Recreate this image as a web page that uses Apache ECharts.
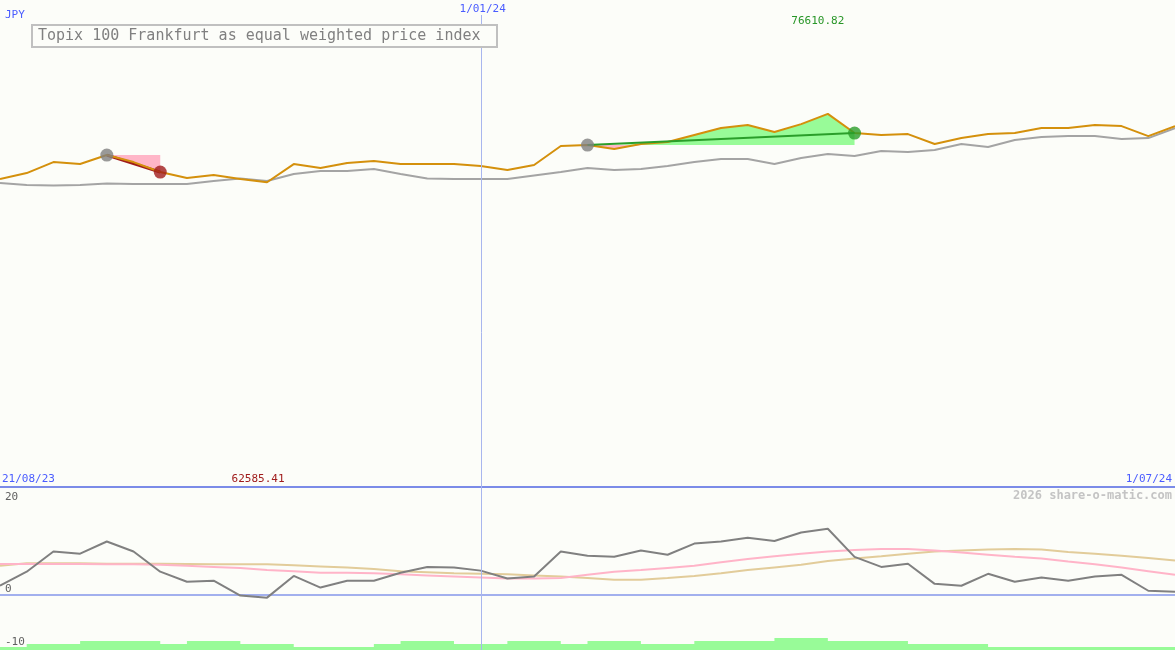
<!DOCTYPE html>
<html>
<head>
<meta charset="utf-8">
<script src="https://cdn.jsdelivr.net/npm/echarts@6/dist/echarts.min.js"></script>
<style>
html,body{margin:0;padding:0;background:#fcfdf9;}
#chart{width:1175px;height:650px;}
</style>
</head>
<body>
<div id="chart"></div>
<script>
// ---- data (weekly points, index 0 .. 44) ----
const tickLabels = ['21/08/23', '1/01/24', '1/07/24'];
const tickIndex = [0, 18, 44];
const price = [63230,64460,66720,66310,68160,66720,64670,63440,64050,63230,62585.41,66310,65490,66520,66930,66310,66310,66310,65900,65080,66110,70010,70210,69390,70420,70830,72270,73700,74320,72880,74520,76610.82,72680,72270,72470,70420,71650,72470,72680,73700,73700,74320,74110,72060,74110];
const average = [62410,62000,61900,62000,62300,62200,62200,62200,62820,63330,62820,64260,64870,64870,65290,64260,63330,63230,63230,63230,63950,64670,65490,65080,65290,65900,66720,67340,67340,66310,67540,68360,67960,68980,68770,69190,70420,69800,71240,71860,72060,72060,71450,71650,73700];
const momentum = [1.75,4.4,8.2,7.8,10.1,8.2,4.4,2.5,2.7,-0.1,-0.5,3.6,1.4,2.7,2.7,4.2,5.3,5.2,4.6,3.1,3.5,8.2,7.4,7.2,8.4,7.6,9.7,10.1,10.8,10.2,11.8,12.5,7.2,5.3,5.9,2.1,1.75,4.0,2.5,3.3,2.7,3.5,3.8,0.8,0.6];
const signalPink = [5.85,5.85,5.85,5.85,5.8,5.8,5.7,5.5,5.3,5.1,4.7,4.5,4.2,4.2,4.1,3.9,3.7,3.5,3.3,3.1,3.1,3.2,3.8,4.4,4.7,5.1,5.5,6.2,6.8,7.3,7.8,8.2,8.5,8.7,8.7,8.4,8.0,7.6,7.2,6.9,6.3,5.8,5.2,4.5,3.8];
const signalTan = [5.5,6.0,6.0,6.0,5.9,5.9,5.9,5.85,5.8,5.8,5.8,5.6,5.4,5.2,4.9,4.5,4.3,4.1,4.0,3.9,3.7,3.5,3.2,2.9,2.9,3.2,3.6,4.1,4.7,5.2,5.7,6.4,6.9,7.3,7.8,8.2,8.4,8.6,8.7,8.6,8.1,7.8,7.4,7.0,6.5];
const volumeLevel = [1,2,2,3,3,3,2,3,3,2,2,1,1,1,2,3,3,2,2,3,3,2,3,3,2,2,3,3,3,4,4,3,3,3,2,2,2,1,1,1,1,1,1,1,1];
const sellSignal = [4, 6];   // from, to index
const buySignal = [22, 32];  // from, to index
const maxLabel = '76610.82', maxIndex = 31;
const minLabel = '62585.41', minIndex = 10;
const currency = 'JPY';
const titleText = 'Topix 100 Frankfurt as equal weighted price index';
const watermark = '2026 share-o-matic.com';
const lowerTicks = [20, 0, -10];

const FONT = 'DejaVu Sans Mono';
const BLUE = '#4a5cff';
const pairs = arr => arr.map((v, i) => [i, v]);

const chart = echarts.init(document.getElementById('chart'), null, {renderer: 'canvas'});

function fillItem(params, api) {
  const from = api.value(0), to = api.value(1), up = api.value(2);
  const base = price[from];
  const pts = [];
  for (let i = from; i <= to; i++) {
    const v = up ? Math.max(price[i], base) : Math.min(price[i], base);
    pts.push(api.coord([i, v]));
  }
  pts.push(api.coord([to, base]));
  pts.push(api.coord([from, base]));
  return {type: 'polygon', shape: {points: pts}, style: {fill: up ? '#98fb98' : '#ffb6c8'}, silent: true};
}

const option = {
  backgroundColor: '#fcfdf9',
  animation: false,
  grid: [
    {left: 0, right: 0, top: 0, height: 487},
    {left: 0, right: 0, top: 489, height: 159},
    {left: 0, right: 0, top: 638, height: 12}
  ],
  xAxis: [
    {type: 'value', gridIndex: 0, min: 0, max: 44, axisLabel: {show: false}, axisTick: {show: false}, splitLine: {show: false},
     axisLine: {show: true, onZero: true, lineStyle: {color: '#7b8be8', width: 2}}},
    {type: 'value', gridIndex: 1, min: 0, max: 44, axisLabel: {show: false}, axisTick: {show: false}, splitLine: {show: false},
     axisLine: {show: true, onZero: true, lineStyle: {color: '#a2b0ee', width: 2}}},
    {type: 'value', gridIndex: 2, min: 0, max: 44, show: false}
  ],
  yAxis: [
    {type: 'value', gridIndex: 0, min: 0, max: 100000, show: false},
    {type: 'value', gridIndex: 1, min: -10, max: 20, show: false},
    {type: 'value', gridIndex: 2, min: 0, max: 4, show: false}
  ],
  series: [
    {type: 'line', xAxisIndex: 2, yAxisIndex: 2, data: pairs(volumeLevel), step: 'end', symbol: 'none',
     lineStyle: {width: 0}, areaStyle: {color: '#98fb98', opacity: 1}, z: 1},
    {type: 'custom', xAxisIndex: 0, yAxisIndex: 0, renderItem: fillItem,
     data: [[sellSignal[0], sellSignal[1], 0], [buySignal[0], buySignal[1], 1], [buySignal[0], buySignal[1], 0]], z: 2},
    {type: 'line', xAxisIndex: 0, yAxisIndex: 0, data: pairs(average), symbol: 'none',
     lineStyle: {color: '#a4a4a4', width: 2}, z: 3},
    {type: 'line', xAxisIndex: 0, yAxisIndex: 0, data: [[sellSignal[0], price[sellSignal[0]]], [sellSignal[1], price[sellSignal[1]]]], symbol: 'none',
     lineStyle: {color: '#a01c1c', width: 3}, z: 4},
    {type: 'line', xAxisIndex: 0, yAxisIndex: 0, data: pairs(price), symbol: 'none',
     lineStyle: {color: '#d4900c', width: 2}, z: 5},
    {type: 'line', xAxisIndex: 0, yAxisIndex: 0, data: [[buySignal[0], price[buySignal[0]]], [buySignal[1], price[buySignal[1]]]], symbol: 'none',
     lineStyle: {color: '#2a9e2a', width: 2}, z: 6},
    {type: 'scatter', xAxisIndex: 0, yAxisIndex: 0, symbol: 'circle', symbolSize: 13, z: 7,
     data: [
       {value: [sellSignal[0], price[sellSignal[0]]], itemStyle: {color: '#808080'}},
       {value: [sellSignal[1], price[sellSignal[1]]], itemStyle: {color: '#a01c1c'}},
       {value: [buySignal[0], price[buySignal[0]]], itemStyle: {color: '#808080'}},
       {value: [buySignal[1], price[buySignal[1]]], itemStyle: {color: '#2a9e2a'}}
     ]},
    {type: 'line', xAxisIndex: 1, yAxisIndex: 1, data: pairs(signalTan), symbol: 'none',
     lineStyle: {color: '#e2cc9a', width: 2}, z: 3},
    {type: 'line', xAxisIndex: 1, yAxisIndex: 1, data: pairs(signalPink), symbol: 'none',
     lineStyle: {color: '#ffb4c8', width: 2}, z: 3},
    {type: 'line', xAxisIndex: 1, yAxisIndex: 1, data: pairs(momentum), symbol: 'none',
     lineStyle: {color: '#808080', width: 2}, z: 4}
  ]
};
chart.setOption(option);

const px = (i) => chart.convertToPixel({xAxisIndex: 0}, i);
const pyLow = (v) => chart.convertToPixel({yAxisIndex: 1}, v);
const txt = (text, x, y, color, align, size, weight) => ({
  type: 'text', x: x, y: y, silent: true, z: 20,
  style: {text: text, fill: color, font: (weight || 'normal') + ' ' + (size || 11) + 'px "' + FONT + '"',
          textAlign: align || 'left', textVerticalAlign: 'middle'}
});
const xMid = px(tickIndex[1]);
const graphics = [
  {type: 'line', silent: true, z: 10, shape: {x1: Math.round(xMid) + 0.5, y1: 15, x2: Math.round(xMid) + 0.5, y2: 650},
   style: {stroke: '#a8b6ee', lineWidth: 1}},
  {type: 'rect', silent: true, z: 19, shape: {x: 32, y: 25, width: 465, height: 22},
   style: {fill: '#fcfdf9', stroke: '#c0c0c0', lineWidth: 2}},
  txt(titleText, 38, 36.5, '#808080', 'left', 15),
  txt(currency, 5, 15, BLUE, 'left', 11),
  txt(tickLabels[1], xMid + 2, 9, BLUE, 'center', 11),
  txt(tickLabels[0], 2, 479, BLUE, 'left', 11),
  txt(tickLabels[2], 1172, 479, BLUE, 'right', 11),
  txt(maxLabel, px(maxIndex) - 10, 21, '#289628', 'center', 11),
  txt(minLabel, px(minIndex) - 9, 479, '#a01c1c', 'center', 11),
  txt(watermark, 1172, 496, '#c4c4c4', 'right', 12, 'bold'),
  txt(String(lowerTicks[0]), 5, pyLow(lowerTicks[0]) + 8, '#606060', 'left', 11),
  txt(String(lowerTicks[1]), 5, pyLow(lowerTicks[1]) - 6, '#606060', 'left', 11),
  txt(String(lowerTicks[2]), 5, pyLow(lowerTicks[2]) - 6, '#606060', 'left', 11)
];
chart.setOption({graphic: graphics});
</script>
</body>
</html>
